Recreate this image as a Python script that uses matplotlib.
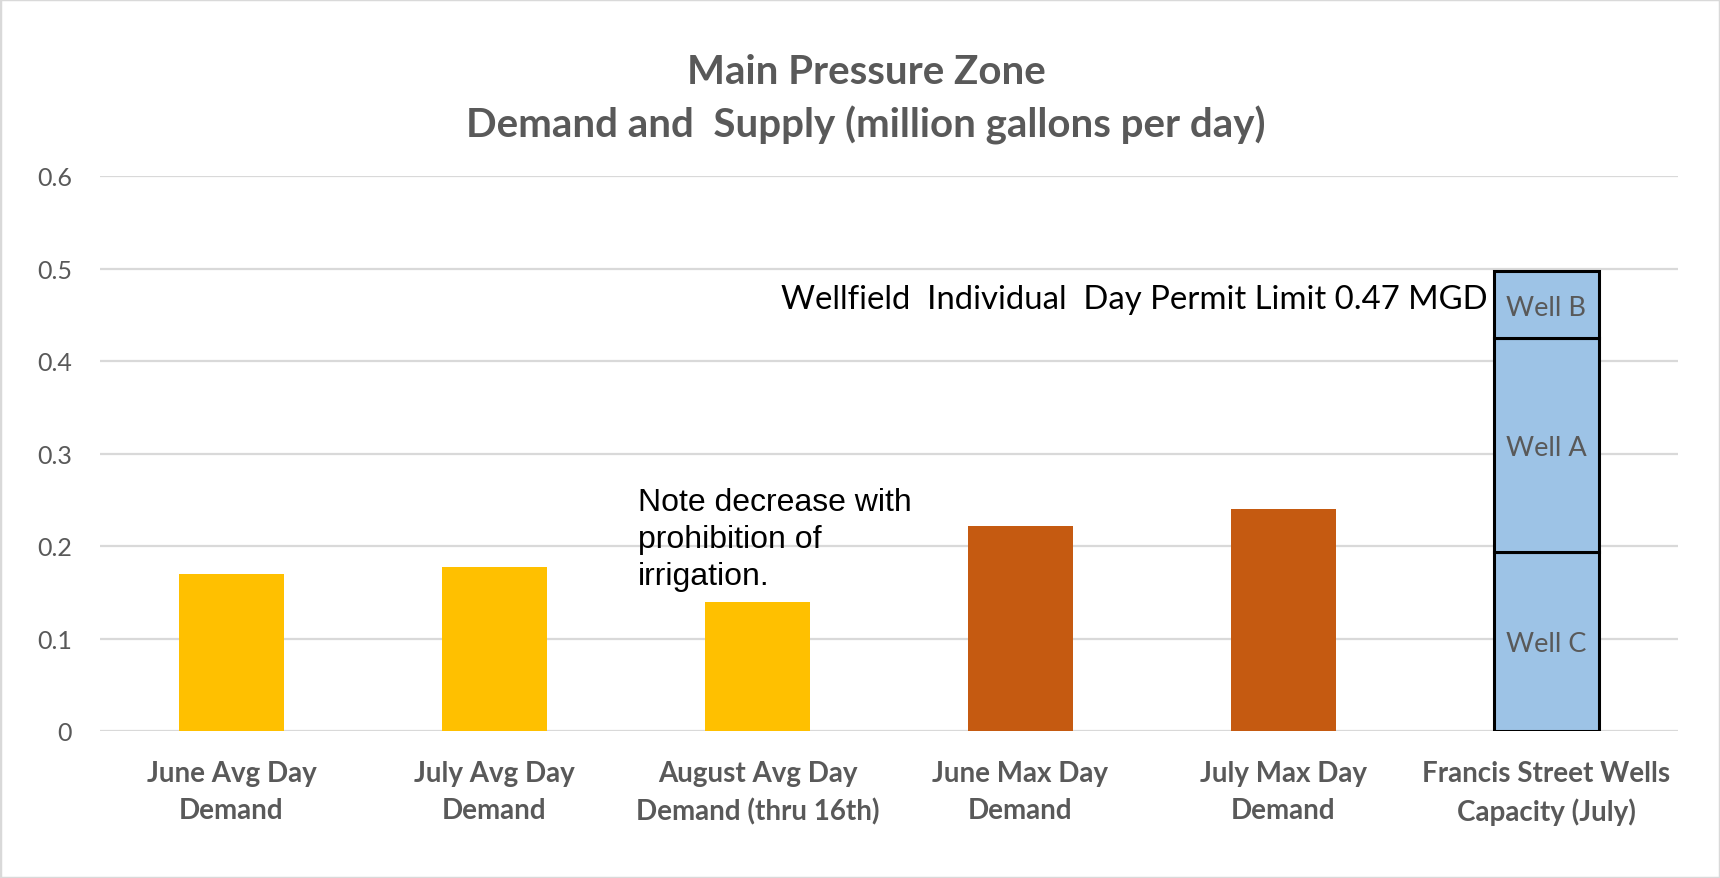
import matplotlib.pyplot as plt
from matplotlib.patches import Rectangle

# chart data
categories = ["June Avg Day\nDemand", "July Avg Day\nDemand", "August Avg Day\nDemand (thru 16th)",
              "June Max Day\nDemand", "July Max Day\nDemand", "Francis Street Wells\nCapacity (July)"]
demand = [0.170, 0.177, 0.140, 0.222, 0.240]
demand_kind = ["avg", "avg", "avg", "max", "max"]
wells = ["Well C", "Well A", "Well B"]
well_capacity = [0.194, 0.231, 0.072]
yticks = [0, 0.1, 0.2, 0.3, 0.4, 0.5, 0.6]
ytick_labels = ["0", "0.1", "0.2", "0.3", "0.4", "0.5", "0.6"]

GRAY = "#595959"
kind_color = {"avg": "#FFC000", "max": "#C55A11"}
calibri_like = ["Lato", "DejaVu Sans"]
arial_like = ["Liberation Sans", "DejaVu Sans"]

fig = plt.figure(figsize=(17.2, 8.79), dpi=100)
ax = fig.add_axes([100 / 1720, 1 - 732 / 879, 1578 / 1720, 555 / 879])

ax.grid(True, axis="y", color="#D9D9D9", linewidth=1.6, zorder=0)
ax.set_axisbelow(True)

xs = list(range(len(categories)))
ax.bar(xs[:len(demand)], demand, width=0.4,
       color=[kind_color[k] for k in demand_kind], zorder=2)

bottom = 0
for name, val in zip(wells, well_capacity):
    ax.bar(xs[-1], val, width=0.4, bottom=bottom, color="#9DC3E6",
           edgecolor="black", linewidth=2.2, zorder=3)
    ax.text(xs[-1], bottom + val / 2, name, ha="center", va="center_baseline",
            fontsize=19.5, color=GRAY, family=calibri_like, zorder=4)
    bottom += val

ax.text(4.775, 0.467, "Wellfield  Individual  Day Permit Limit 0.47 MGD", ha="right", va="center",
        fontsize=23.7, color="black", family=calibri_like, zorder=4)
ax.text(1.546, 0.264, "Note decrease with\nprohibition of\nirrigation.", ha="left", va="top",
        fontsize=23, color="black", family=arial_like, linespacing=1.3, zorder=4)

ax.set_xlim(-0.5, 5.5)
ax.set_ylim(0, 0.6)
ax.set_yticks(yticks)
ax.set_yticklabels(ytick_labels, fontsize=18, color=GRAY, family=calibri_like)
ax.set_xticks(xs)
ax.set_xticklabels(categories, fontsize=20, color=GRAY, family=calibri_like,
                   fontweight="bold", linespacing=1.5)
ax.tick_params(axis="both", length=0)
ax.tick_params(axis="y", pad=20)
ax.tick_params(axis="x", pad=21)
for s in ax.spines.values():
    s.set_visible(False)

fig.text(866 / 1720, 1 - 72 / 879, "Main Pressure Zone", ha="center", va="center",
         fontsize=29, fontweight="bold", color=GRAY, family=calibri_like)
fig.text(866 / 1720, 1 - 125 / 879, "Demand and  Supply (million gallons per day)", ha="center", va="center",
         fontsize=29, fontweight="bold", color=GRAY, family=calibri_like)

fig.patches.append(Rectangle((0, 0), 1, 1, transform=fig.transFigure, fill=False,
                             edgecolor="#D9D9D9", linewidth=2.5))

fig.savefig("out.png", dpi=100)
